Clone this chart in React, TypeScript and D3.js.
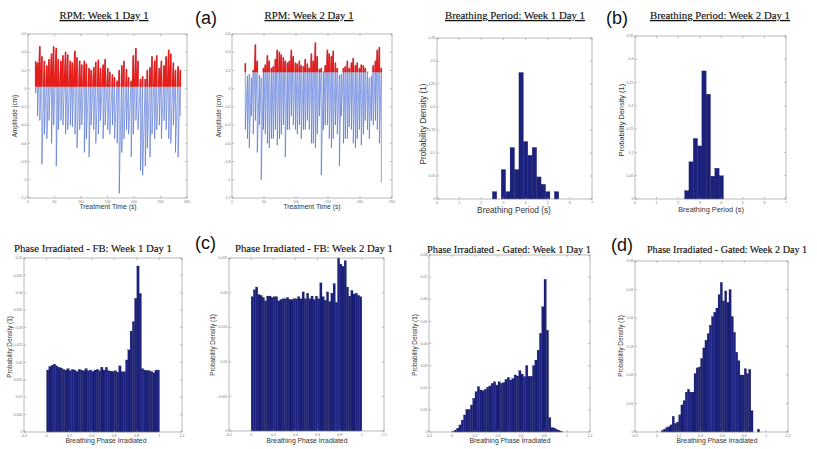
import React from 'react';
import * as d3 from 'd3';

// RPM traces: one peak and one trough read per breathing cycle (time in s, amplitude in cm)
const rpm1Time = [
  14.5, 18.0, 22.3, 26.2, 30.9, 35.6, 39.6, 44.4, 48.4, 53.3,
  57.2, 62.1, 66.0, 70.9, 75.0, 79.8, 83.7, 88.6, 92.5, 97.5,
  101.4, 106.3, 110.2, 115.2, 119.0, 124.0, 127.9, 132.8, 136.8, 141.7,
  145.6, 150.5, 154.4, 159.4, 163.3, 168.2, 172.1, 177.0, 181.0, 185.9,
  189.8, 194.7, 198.7, 203.6, 207.5, 212.4, 216.3, 221.3, 225.2, 230.1,
  234.0, 239.0, 242.9, 247.8, 251.7, 256.7, 260.6, 265.5, 269.4, 274.3,
  278.3, 283.2, 287.4,
];
const rpm1Peak = [
  0.30, 0.28, 0.46, 0.35, 0.30, 0.25, 0.32, 0.38, 0.46, 0.44,
  0.32, 0.30, 0.36, 0.40, 0.37, 0.30, 0.28, 0.41, 0.34, 0.30,
  0.26, 0.30, 0.27, 0.22, 0.20, 0.23, 0.29, 0.31, 0.22, 0.26,
  0.32, 0.22, 0.18, 0.15, 0.12, 0.08, 0.20, 0.25, 0.30, 0.21,
  0.12, 0.08, 0.36, 0.44, 0.30, 0.10, 0.13, 0.10, 0.20, 0.23,
  0.35, 0.30, 0.36, 0.22, 0.30, 0.25, 0.35, 0.42, 0.38, 0.28,
  0.20, 0.24, 0.20,
];
const rpm1Trough = [
  -0.05, -0.30, -0.35, -0.83, -0.50, -0.55, -0.35, -0.60, -0.40, -0.85,
  -0.45, -0.35, -0.40, -0.50, -0.45, -0.40, -0.42, -0.50, -0.65, -0.45,
  -0.40, -0.70, -0.55, -0.75, -0.40, -0.45, -0.60, -0.50, -0.35, -0.55,
  -0.40, -0.45, -0.50, -0.40, -0.55, -0.60, -1.15, -0.70, -0.55, -0.45,
  -0.50, -0.75, -0.50, -0.35, -0.45, -0.90, -0.95, -0.85, -0.65, -0.75,
  -0.50, -0.55, -0.45, -0.40, -0.55, -0.35, -0.45, -0.55, -0.60, -0.40,
  -0.70, -0.75, -0.30,
];
const rpm1Gate = 0.02;

const rpm2Time = [
  20.8, 24.1, 27.0, 30.3, 33.2, 36.6, 39.5, 42.8, 45.7, 49.1,
  52.0, 55.3, 58.2, 61.6, 64.5, 67.8, 70.7, 74.1, 77.0, 80.3,
  83.2, 86.6, 89.5, 92.8, 95.7, 99.1, 102.0, 105.3, 108.2, 111.6,
  114.5, 117.8, 120.7, 124.1, 127.0, 130.3, 133.2, 136.6, 139.5, 142.8,
  145.7, 149.1, 152.0, 155.3, 158.2, 161.6, 164.5, 167.8, 170.7, 174.1,
  177.0, 180.3, 183.2, 186.6, 189.5, 192.8, 195.7, 199.1, 202.0, 205.3,
  208.2, 211.6, 214.5, 217.8, 220.7, 224.1, 227.0, 230.3, 233.3,
];
const rpm2Peak = [
  0.28, 0.14, 0.16, 0.12, 0.20, 0.48, 0.30, 0.15, 0.12, 0.22,
  0.26, 0.36, 0.30, 0.22, 0.24, 0.32, 0.42, 0.40, 0.37, 0.34,
  0.30, 0.28, 0.30, 0.42, 0.35, 0.28, 0.27, 0.30, 0.25, 0.24,
  0.32, 0.27, 0.22, 0.38, 0.30, 0.50, 0.35, 0.21, 0.22, 0.18,
  0.25, 0.42, 0.38, 0.35, 0.41, 0.28, 0.22, 0.15, 0.16, 0.22,
  0.24, 0.30, 0.22, 0.28, 0.33, 0.25, 0.28, 0.22, 0.26, 0.25,
  0.22, 0.18, 0.12, 0.14, 0.25, 0.30, 0.42, 0.45, 0.22,
];
const rpm2Trough = [
  -0.45, -0.55, -0.65, -0.30, -0.50, -0.35, -0.70, -0.40, -1.00, -0.45,
  -0.50, -0.60, -0.65, -0.55, -0.55, -0.45, -0.62, -0.55, -0.50, -0.40,
  -0.75, -0.45, -0.45, -0.30, -0.40, -0.45, -0.50, -0.40, -0.55, -0.45,
  -0.45, -0.35, -0.45, -0.60, -0.60, -0.65, -0.50, -0.30, -0.95, -0.45,
  -0.40, -0.40, -0.55, -0.65, -0.55, -0.40, -0.50, -0.85, -0.30, -0.60,
  -0.55, -0.55, -0.42, -0.45, -0.60, -0.65, -0.55, -0.45, -0.62, -0.50,
  -0.35, -0.45, -0.55, -0.35, -0.40, -0.35, -0.45, -0.60, -1.03,
];
const rpm2Gate = 0.18;

// Breathing period histograms (bin start in s, probability)
const periodBinWidth = 0.2;
const period1Start = [2.5, 2.7, 2.9, 3.1, 3.3, 3.5, 3.7, 3.9, 4.1, 4.3, 4.5, 4.7, 4.9, 5.1, 5.3];
const period1Prob = [0.016, 0, 0.064, 0.016, 0.112, 0.064, 0.275, 0.125, 0.095, 0.112, 0.048, 0.032, 0.016, 0, 0.016];
const period2Start = [2.3, 2.5, 2.7, 2.9, 3.1, 3.3, 3.5, 3.7, 3.9];
const period2Prob = [0.018, 0.080, 0.130, 0.114, 0.275, 0.225, 0.049, 0.066, 0.050];

// Phase irradiated histograms, 50 bins over [0, 1)
const phaseBinWidth = 0.02;
const fbW1 = [
  0.0178, 0.0188, 0.0192, 0.0195, 0.0190, 0.0186, 0.0184, 0.0180, 0.0178, 0.0182,
  0.0176, 0.0180, 0.0178, 0.0174, 0.0180, 0.0178, 0.0176, 0.0182, 0.0176, 0.0178,
  0.0174, 0.0178, 0.0180, 0.0176, 0.0186, 0.0178, 0.0186, 0.0176, 0.0175, 0.0174,
  0.0176, 0.0172, 0.0190, 0.0173, 0.0173, 0.0207, 0.0236, 0.0290, 0.0317, 0.0384,
  0.0477, 0.0398, 0.0182, 0.0178, 0.0177, 0.0176, 0.0174, 0.0170, 0.0178, 0.0178,
];
const fbW2 = [
  0.0194, 0.0204, 0.0208, 0.0197, 0.0196, 0.0193, 0.0188, 0.0195, 0.0195, 0.0193,
  0.0194, 0.0194, 0.0188, 0.0190, 0.0191, 0.0191, 0.0193, 0.0190, 0.0190, 0.0191,
  0.0191, 0.0194, 0.0191, 0.0201, 0.0191, 0.0199, 0.0191, 0.0195, 0.0190, 0.0195,
  0.0191, 0.0214, 0.0194, 0.0189, 0.0201, 0.0187, 0.0199, 0.0213, 0.0186, 0.0250,
  0.0241, 0.0238, 0.0246, 0.0208, 0.0195, 0.0203, 0.0198, 0.0199, 0.0196, 0.0194,
];
const gatedW1 = [
  0.0002, 0.0009, 0.0017, 0.0032, 0.0054, 0.0077, 0.0102, 0.0102, 0.0122, 0.0152,
  0.0182, 0.0205, 0.0190, 0.0187, 0.0193, 0.0202, 0.0208, 0.0220, 0.0227, 0.0212,
  0.0227, 0.0220, 0.0223, 0.0238, 0.0247, 0.0235, 0.0242, 0.0258, 0.0253, 0.0277,
  0.0262, 0.0250, 0.0300, 0.0252, 0.0252, 0.0300, 0.0325, 0.0370, 0.0446, 0.0566,
  0.0690, 0.0460, 0.0065, 0.0020, 0.0018, 0.0012, 0.0008, 0.0003, 0, 0,
];
const gatedW2 = [
  0, 0, 0.0005, 0.0010, 0.0015, 0.0018, 0.0025, 0.0055, 0.0030, 0.0035,
  0.0060, 0.0095, 0.0110, 0.0140, 0.0150, 0.0140, 0.0140, 0.0205, 0.0225, 0.0228,
  0.0258, 0.0295, 0.0322, 0.0345, 0.0375, 0.0405, 0.0420, 0.0435, 0.0482, 0.0525,
  0.0460, 0.0495, 0.0455, 0.0500, 0.0405, 0.0350, 0.0280, 0.0250, 0.0200, 0.0200,
  0.0222, 0.0205, 0.0220, 0.0075, 0, 0, 0.0010, 0, 0, 0,
];

// tick values
const rpmYTicks = [-1.2, -1, -0.8, -0.6, -0.4, -0.2, 0, 0.2, 0.4, 0.6];
const rpm1XTicks = [0, 50, 100, 150, 200, 250, 300];
const rpm2XTicks = [0, 50, 100, 150, 200, 250];
const periodXTicks = [0, 1, 2, 3, 4, 5, 6, 7];
const periodYTicks = [0, 0.05, 0.1, 0.15, 0.2, 0.25, 0.3, 0.35];
const phaseXTicks = [-0.2, 0, 0.2, 0.4, 0.6, 0.8, 1, 1.2];
const fbW1YTicks = [0, 0.005, 0.01, 0.015, 0.02, 0.025, 0.03, 0.035, 0.04, 0.045, 0.05];
const fbW2YTicks = [0, 0.005, 0.01, 0.015, 0.02, 0.025];
const gatedW1YTicks = [0, 0.01, 0.02, 0.03, 0.04, 0.05, 0.06, 0.07, 0.08];
const gatedW2YTicks = [0, 0.01, 0.02, 0.03, 0.04, 0.05, 0.06];

const SANS = 'Liberation Sans, Arial, sans-serif';
const SERIF = 'Liberation Serif, Times New Roman, serif';
const BAR = '#1b217c';
const fmt = (v: number) => String(+v.toFixed(4));

type Box = { x: number; y: number; w: number; h: number };

function Frame({ box, x, y, xTicks, yTicks }: any) {
  const tl = 2.2;
  const b = box.y + box.h;
  const r = box.x + box.w;
  return (
    <g>
      <rect x={box.x} y={box.y} width={box.w} height={box.h} fill="none" stroke="#8a8a8a" strokeWidth={0.6} />
      {xTicks.map((t: number) => (
        <g key={'x' + t}>
          <line x1={x(t)} x2={x(t)} y1={b} y2={b - tl} stroke="#8a8a8a" strokeWidth={0.5} />
          <line x1={x(t)} x2={x(t)} y1={box.y} y2={box.y + tl} stroke="#8a8a8a" strokeWidth={0.5} />
          <text x={x(t)} y={b + 4.6} textAnchor="middle" fontSize={3.6} fill="#777" fontFamily={SANS}>{fmt(t)}</text>
        </g>
      ))}
      {yTicks.map((t: number) => (
        <g key={'y' + t}>
          <line x1={box.x} x2={box.x + tl} y1={y(t)} y2={y(t)} stroke="#8a8a8a" strokeWidth={0.5} />
          <line x1={r} x2={r - tl} y1={y(t)} y2={y(t)} stroke="#8a8a8a" strokeWidth={0.5} />
          <text x={box.x - 1.5} y={y(t) + 1.2} textAnchor="end" fontSize={3.6} fill="#777" fontFamily={SANS}>{fmt(t)}</text>
        </g>
      ))}
    </g>
  );
}

function Labels({ title, tx, ty, tw, ts, underline, xLabel, xlx, xly, xls, yLabel, ylx, yly, yls }: any) {
  return (
    <g>
      <text x={tx - tw / 2} y={ty} fontSize={ts} fontFamily={SERIF} fill="#111" stroke="#111" strokeWidth={0.15}
        textLength={tw} lengthAdjust="spacingAndGlyphs"
        style={{ textDecoration: underline ? 'underline' : 'none' }}>{title}</text>
      <text x={xlx} y={xly} textAnchor="middle" fontSize={xls} fontFamily={SANS} fill="#333">{xLabel}</text>
      <text transform={`translate(${ylx},${yly}) rotate(-90)`} textAnchor="middle" fontSize={yls} fontFamily={SANS} fill="#333">{yLabel}</text>
    </g>
  );
}

function TracePanel({ id, box, xDomain, xTicks, time, peak, trough, gate }: any) {
  const x = d3.scaleLinear().domain(xDomain).range([box.x, box.x + box.w]);
  const y = d3.scaleLinear().domain([-1.2, 0.6]).range([box.y + box.h, box.y]);
  const pts: [number, number][] = [];
  time.forEach((t: number, i: number) => {
    pts.push([t, peak[i]]);
    pts.push([t, trough[i]]);
  });
  const line = d3.line<[number, number]>().x((d) => x(d[0])).y((d) => y(d[1]));
  const d = line(pts) || '';
  return (
    <g>
      <defs>
        <clipPath id={id}>
          <rect x={box.x} y={box.y} width={box.w} height={y(gate) - box.y} />
        </clipPath>
      </defs>
      <path d={d} fill="none" stroke="#4566d2" strokeWidth={0.6} />
      <path d={d} fill="none" stroke="#e61e1a" strokeWidth={1.6} strokeLinejoin="round" clipPath={`url(#${id})`} />
      <Frame box={box} x={x} y={y} xTicks={xTicks} yTicks={rpmYTicks} />
    </g>
  );
}

function HistPanel({ box, xDomain, yDomain, xTicks, yTicks, starts, values, width }: any) {
  const x = d3.scaleLinear().domain(xDomain).range([box.x, box.x + box.w]);
  const y = d3.scaleLinear().domain(yDomain).range([box.y + box.h, box.y]);
  return (
    <g>
      {values.map((v: number, i: number) => v > 0 && (
        <rect key={i} x={x(starts[i])} width={x(starts[i] + width) - x(starts[i])}
          y={y(v)} height={y(0) - y(v)} fill={BAR} stroke="#0e1255" strokeWidth={0.25} />
      ))}
      <Frame box={box} x={x} y={y} xTicks={xTicks} yTicks={yTicks} />
    </g>
  );
}

const phaseStarts = fbW1.map((_, i) => i * phaseBinWidth);

export default function App() {
  const b1: Box = { x: 28, y: 34, w: 159, h: 164 };
  const b2: Box = { x: 232, y: 34, w: 160, h: 164 };
  const b3: Box = { x: 437, y: 38, w: 155, h: 161 };
  const b4: Box = { x: 635, y: 36, w: 151, h: 163 };
  const b5: Box = { x: 24, y: 258, w: 158, h: 174 };
  const b6: Box = { x: 229, y: 258, w: 155, h: 173 };
  const b7: Box = { x: 429, y: 255, w: 161, h: 177 };
  const b8: Box = { x: 635, y: 261, w: 153, h: 171 };
  return (
    <svg width={817} height={449} style={{ position: 'absolute', left: 0, top: 0 }}>
      <rect width={817} height={449} fill="#fff" />

      <TracePanel id="g1" box={b1} xDomain={[0, 300]} xTicks={rpm1XTicks} time={rpm1Time} peak={rpm1Peak} trough={rpm1Trough} gate={rpm1Gate} />
      <Labels title="RPM: Week 1 Day 1" tx={104} ty={19} tw={89} ts={11} underline
        xLabel="Treatment Time (s)" xlx={108} xly={209} xls={6.8}
        yLabel="Amplitude (cm)" ylx={17} yly={116} yls={6.3} />

      <TracePanel id="g2" box={b2} xDomain={[0, 250]} xTicks={rpm2XTicks} time={rpm2Time} peak={rpm2Peak} trough={rpm2Trough} gate={rpm2Gate} />
      <Labels title="RPM: Week 2 Day 1" tx={309} ty={19} tw={89} ts={11} underline
        xLabel="Treatment Time (s)" xlx={312} xly={209} xls={6.8}
        yLabel="Amplitude (cm)" ylx={221} yly={116} yls={6.3} />

      <HistPanel box={b3} xDomain={[0, 7]} yDomain={[0, 0.35]} xTicks={periodXTicks} yTicks={periodYTicks}
        starts={period1Start} values={period1Prob} width={periodBinWidth} />
      <Labels title="Breathing Period: Week 1 Day 1" tx={515} ty={19} tw={140} ts={11.2} underline
        xLabel="Breathing Period (s)" xlx={514} xly={213} xls={8.3}
        yLabel="Probability Density (1)" ylx={426} yly={124} yls={8.3} />

      <HistPanel box={b4} xDomain={[0, 7]} yDomain={[0, 0.35]} xTicks={periodXTicks} yTicks={periodYTicks}
        starts={period2Start} values={period2Prob} width={periodBinWidth} />
      <Labels title="Breathing Period: Week 2 Day 1" tx={720} ty={19} tw={140} ts={11.2} underline
        xLabel="Breathing Period (s)" xlx={711} xly={212} xls={7.4}
        yLabel="Probability Density (1)" ylx={624} yly={120} yls={7.4} />

      <HistPanel box={b5} xDomain={[-0.2, 1.2]} yDomain={[0, 0.05]} xTicks={phaseXTicks} yTicks={fbW1YTicks}
        starts={phaseStarts} values={fbW1} width={phaseBinWidth} />
      <Labels title="Phase Irradiated - FB: Week 1 Day 1" tx={93} ty={252} tw={158} ts={10.8}
        xLabel="Breathing Phase Irradiated" xlx={106} xly={443} xls={6.8}
        yLabel="Probability Density (1)" ylx={12} yly={347} yls={6.3} />

      <HistPanel box={b6} xDomain={[-0.2, 1.2]} yDomain={[0, 0.025]} xTicks={phaseXTicks} yTicks={fbW2YTicks}
        starts={phaseStarts} values={fbW2} width={phaseBinWidth} />
      <Labels title="Phase Irradiated - FB: Week 2 Day 1" tx={314} ty={252} tw={158} ts={10.8}
        xLabel="Breathing Phase Irradiated" xlx={307} xly={443} xls={6.8}
        yLabel="Probability Density (1)" ylx={215} yly={345} yls={6.3} />

      <HistPanel box={b7} xDomain={[-0.2, 1.2]} yDomain={[0, 0.08]} xTicks={phaseXTicks} yTicks={gatedW1YTicks}
        starts={phaseStarts} values={gatedW1} width={phaseBinWidth} />
      <Labels title="Phase Irradiated - Gated: Week 1 Day 1" tx={509} ty={253} tw={164} ts={10.6}
        xLabel="Breathing Phase Irradiated" xlx={510} xly={443} xls={6.8}
        yLabel="Probability Density (1)" ylx={417} yly={345} yls={6.3} />

      <HistPanel box={b8} xDomain={[-0.2, 1.2]} yDomain={[0, 0.06]} xTicks={phaseXTicks} yTicks={gatedW2YTicks}
        starts={phaseStarts} values={gatedW2} width={phaseBinWidth} />
      <Labels title="Phase Irradiated - Gated: Week 2 Day 1" tx={727} ty={253} tw={160} ts={10.4}
        xLabel="Breathing Phase Irradiated" xlx={717} xly={443} xls={6.8}
        yLabel="Probability Density (1)" ylx={623} yly={346} yls={6.3} />

      <text x={195} y={24} fontSize={18} fontFamily={SANS} fill="#111">(a)</text>
      <text x={606} y={24} fontSize={18} fontFamily={SANS} fill="#111">(b)</text>
      <text x={195} y={249} fontSize={18} fontFamily={SANS} fill="#111">(c)</text>
      <text x={611} y={251} fontSize={18} fontFamily={SANS} fill="#111">(d)</text>
    </svg>
  );
}
